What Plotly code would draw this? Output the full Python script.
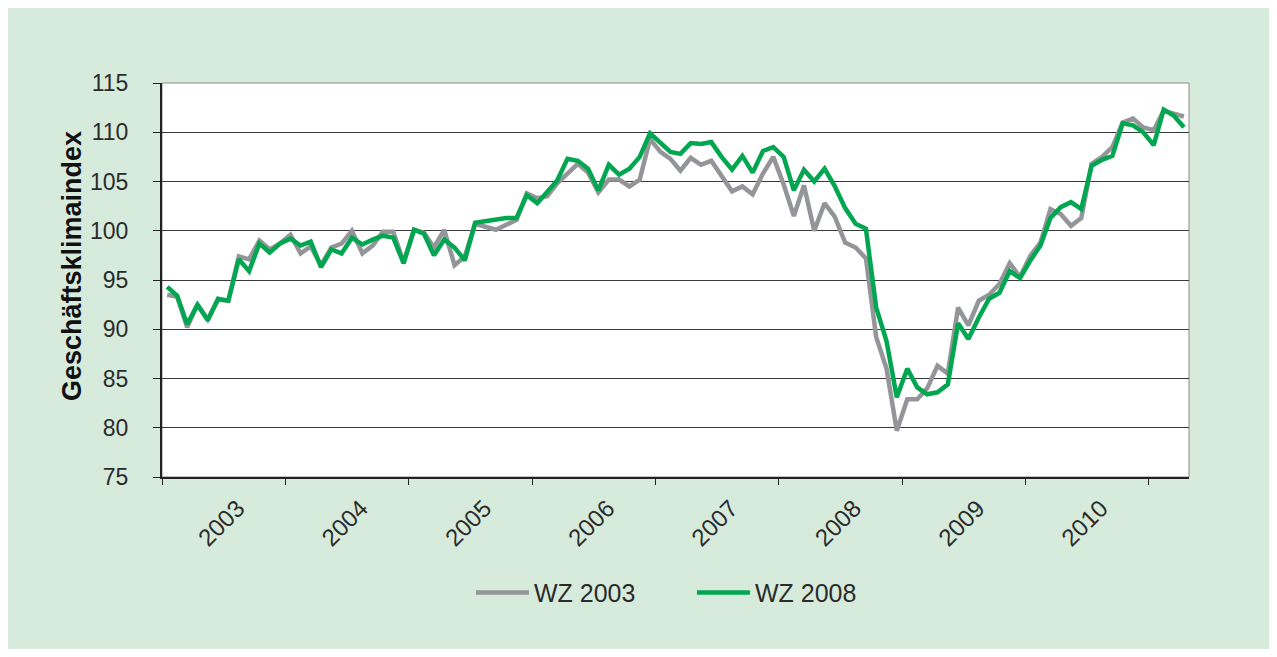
import pandas as pd
import plotly.graph_objects as go

start_month = "2003-01-01"
n_months = 100

wz2003 = [93.5, 93.3, 90.2, 92.5, 91.0, 93.0, 92.9, 97.4, 97.1, 99.0,
          98.1, 98.7, 99.6, 97.7, 98.4, 96.5, 98.3, 98.7, 100.0, 97.7,
          98.5, 99.9, 99.9, 96.8, 100.1, 99.8, 98.3, 100.1, 96.5, 97.4,
          100.7, 100.4, 100.1, 100.6, 101.1, 103.8, 103.3, 103.5, 104.8, 105.8,
          106.8, 105.9, 103.9, 105.2, 105.2, 104.5, 105.2, 109.3, 108.0, 107.3,
          106.1, 107.4, 106.7, 107.1, 105.6, 104.0, 104.5, 103.7, 105.8, 107.5,
          104.7, 101.5, 104.6, 100.0, 102.8, 101.4, 98.8, 98.3, 97.2, 89.2,
          86.0, 79.7, 82.9, 82.9, 84.0, 86.3, 85.5, 92.2, 90.4, 92.9,
          93.5, 94.6, 96.7, 95.3, 97.5, 98.8, 102.2, 101.7, 100.5, 101.3,
          106.8, 107.5, 108.5, 111.0, 111.4, 110.5, 110.2, 112.2, 111.9, 111.6]

wz2008 = [94.3, 93.4, 90.5, 92.5, 90.9, 93.1, 92.9, 97.1, 95.9, 98.7,
          97.8, 98.7, 99.2, 98.5, 98.9, 96.3, 98.1, 97.7, 99.3, 98.6,
          99.1, 99.5, 99.3, 96.7, 100.1, 99.7, 97.5, 99.1, 98.3, 97.0,
          100.8, 101.0, 101.1, 101.3, 101.3, 103.6, 102.8, 103.9, 105.1, 107.3,
          107.1, 106.3, 104.1, 106.7, 105.7, 106.3, 107.5, 109.9, 109.0, 108.0,
          107.8, 108.9, 108.8, 109.0, 107.5, 106.2, 107.6, 105.9, 108.1, 108.5,
          107.5, 104.1, 106.2, 105.0, 106.3, 104.5, 102.3, 100.7, 100.2, 92.2,
          88.8, 83.1, 86.0, 84.1, 83.4, 83.6, 84.4, 90.6, 89.0, 91.2,
          93.1, 93.7, 95.9, 95.2, 97.0, 98.5, 101.3, 102.4, 102.9, 102.2,
          106.6, 107.2, 107.6, 110.9, 110.7, 110.0, 108.7, 112.3, 111.7, 110.5]

y_ticks = [75, 80, 85, 90, 95, 100, 105, 110, 115]

month_starts = pd.date_range(start_month, periods=n_months + 1, freq="MS")
x_dates = month_starts[:-1] + (month_starts[1:] - month_starts[:-1]) / 2

GRAY = "#939598"
GREEN = "#00a650"
BG = "#d7ebdd"
TXT = "#2b2b2b"
FONT = "Liberation Sans, Arial, sans-serif"

fig = go.Figure()
fig.add_trace(go.Scatter(x=x_dates, y=wz2003, mode="lines", name="WZ 2003",
                         line=dict(color=GRAY, width=4.5)))
fig.add_trace(go.Scatter(x=x_dates, y=wz2008, mode="lines", name="WZ 2008",
                         line=dict(color=GREEN, width=4.5)))

fig.update_layout(
    width=1261, height=641,
    margin=dict(l=154, r=80, t=75, b=172),
    paper_bgcolor=BG,
    plot_bgcolor="white",
    font=dict(family=FONT, size=23, color=TXT),
    showlegend=True,
    legend=dict(orientation="h", x=0.516, xanchor="center", y=-0.294, yanchor="middle",
                font=dict(size=25, color=TXT), bgcolor="rgba(0,0,0,0)",
                itemwidth=53, entrywidth=153),
    shapes=[
        dict(type="rect", xref="paper", yref="paper", x0=0, x1=1, y0=0, y1=1,
             fillcolor="white", line=dict(color="#8a8a8a", width=1), layer="below"),
    ],
    annotations=[
        dict(text="<b>Geschäftsklimaindex</b>", xref="paper", yref="paper",
             x=-0.0876, y=0.5355, xanchor="center", yanchor="middle",
             textangle=-90, showarrow=False,
             font=dict(family=FONT, size=27, color="#111111")),
    ],
)

fig.update_xaxes(
    type="date",
    range=[month_starts[0], month_starts[-1]],
    tick0=start_month, dtick="M12", tickformat="%Y",
    ticklabelmode="period",
    tickangle=-45,
    ticklabelshift=14,
    ticks="outside", ticklen=6, tickcolor="#222222", tickwidth=1,
    showgrid=False, zeroline=False,
    showline=True, linecolor="#222222", linewidth=1.5,
    tickfont=dict(size=24, color=TXT),
)
fig.update_yaxes(
    range=[75, 115], tickvals=y_ticks,
    ticks="outside", ticklen=7, tickcolor="#222222", tickwidth=1,
    showgrid=True, gridcolor="#3a3a3a", gridwidth=1,
    zeroline=False,
    showline=True, linecolor="#222222", linewidth=2,
    ticklabelstandoff=20,
    tickfont=dict(size=23, color=TXT),
)

fig.write_html("out.html")
